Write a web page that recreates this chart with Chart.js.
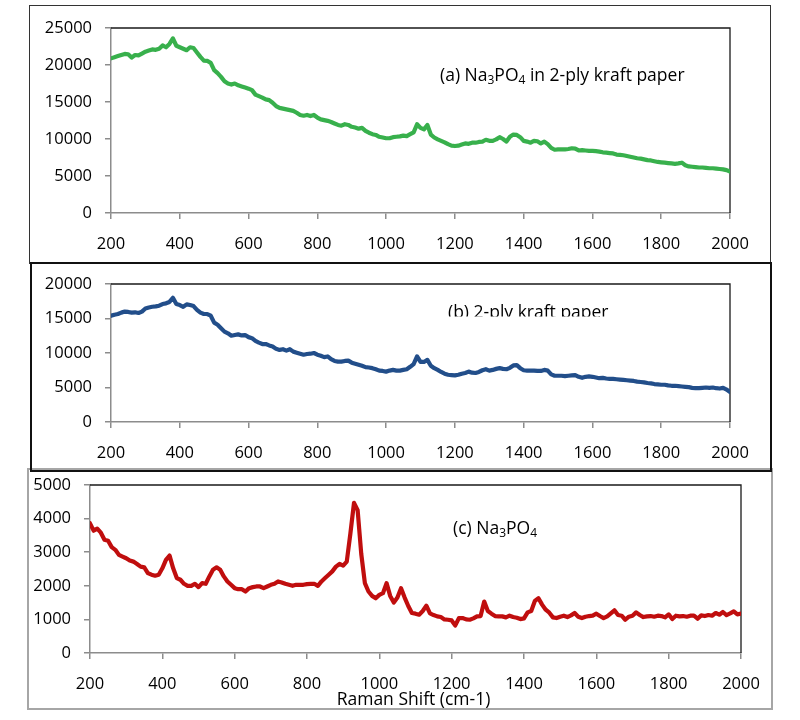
<!DOCTYPE html>
<html>
<head>
<meta charset="utf-8">
<script src="https://cdn.jsdelivr.net/npm/chart.js@4.4.1/dist/chart.umd.min.js"></script>
<style>
  html, body { margin: 0; padding: 0; background: #fff; }
  #page { position: relative; width: 800px; height: 720px; overflow: hidden; background: #fff; }
  #page canvas { position: absolute; left: 0; top: 0; }
  .box { position: absolute; box-sizing: border-box; }
</style>
</head>
<body>
<div id="page">
  <div class="box" style="left:27px;top:468px;width:746px;height:242px;border:2px solid #a6a6a6"></div>
  <div class="box" style="left:29px;top:5px;width:742px;height:259px;border:1.5px solid #333"></div>
  <div class="box" style="left:30px;top:262px;width:742px;height:210px;border:2px solid #111"></div>
  <canvas id="chartA" width="800" height="720"></canvas>
  <canvas id="chartB" width="800" height="720"></canvas>
  <canvas id="chartC" width="800" height="720"></canvas>
</div>
<script>
// Raman shift (cm-1), one reading every 10 cm-1
const shifts = [
  200, 210, 220, 230, 240, 250, 260, 270, 280, 290,
  300, 310, 320, 330, 340, 350, 360, 370, 380, 390,
  400, 410, 420, 430, 440, 450, 460, 470, 480, 490,
  500, 510, 520, 530, 540, 550, 560, 570, 580, 590,
  600, 610, 620, 630, 640, 650, 660, 670, 680, 690,
  700, 710, 720, 730, 740, 750, 760, 770, 780, 790,
  800, 810, 820, 830, 840, 850, 860, 870, 880, 890,
  900, 910, 920, 930, 940, 950, 960, 970, 980, 990,
  1000, 1010, 1020, 1030, 1040, 1050, 1060, 1070, 1080, 1090,
  1100, 1110, 1120, 1130, 1140, 1150, 1160, 1170, 1180, 1190,
  1200, 1210, 1220, 1230, 1240, 1250, 1260, 1270, 1280, 1290,
  1300, 1310, 1320, 1330, 1340, 1350, 1360, 1370, 1380, 1390,
  1400, 1410, 1420, 1430, 1440, 1450, 1460, 1470, 1480, 1490,
  1500, 1510, 1520, 1530, 1540, 1550, 1560, 1570, 1580, 1590,
  1600, 1610, 1620, 1630, 1640, 1650, 1660, 1670, 1680, 1690,
  1700, 1710, 1720, 1730, 1740, 1750, 1760, 1770, 1780, 1790,
  1800, 1810, 1820, 1830, 1840, 1850, 1860, 1870, 1880, 1890,
  1900, 1910, 1920, 1930, 1940, 1950, 1960, 1970, 1980, 1990,
  2000
];

// (a) Na3PO4 in 2-ply kraft paper
const sampleA = [
  20900, 21050, 21200, 21350, 21500, 21450, 21000, 21350, 21300, 21550,
  21800, 21950, 22100, 22050, 22200, 22650, 22400, 22850, 23600, 22600,
  22400, 22200, 22000, 22400, 22300, 21700, 21100, 20600, 20550, 20300,
  19300, 18900, 18400, 17800, 17500, 17350, 17500, 17250, 17100, 16950,
  16800, 16600, 16000, 15800, 15600, 15350, 15250, 14900, 14450, 14200,
  14100, 14000, 13900, 13800, 13550, 13250, 13150, 13250, 13100, 13250,
  12900, 12650, 12550, 12450, 12300, 12100, 11900, 11800, 12000, 11900,
  11650, 11550, 11400, 11500, 11100, 10850, 10650, 10550, 10300, 10200,
  10100, 10100, 10250, 10300, 10350, 10450, 10400, 10650, 10900, 12000,
  11500, 11300, 11900, 10600, 10200, 9950, 9750, 9550, 9300, 9100,
  9050, 9100, 9250, 9400, 9350, 9500, 9500, 9600, 9650, 9900,
  9750, 9750, 9950, 10250, 10000, 9650, 10300, 10600, 10550, 10250,
  9750, 9650, 9500, 9750, 9700, 9400, 9650, 9300, 8800, 8550,
  8600, 8600, 8600, 8650, 8750, 8700, 8450, 8500, 8450, 8400,
  8400, 8350, 8300, 8200, 8150, 8100, 8050, 7900, 7850, 7800,
  7700, 7600, 7500, 7400, 7350, 7250, 7150, 7100, 7000, 6900,
  6850, 6800, 6750, 6700, 6650, 6700, 6800, 6450, 6300, 6250,
  6200, 6150, 6150, 6100, 6050, 6050, 6000, 5950, 5900, 5800,
  5600
];

// (b) 2-ply kraft paper
const sampleB = [
  15400, 15550, 15650, 15850, 16000, 15950, 15850, 15900, 15800, 16000,
  16450, 16600, 16700, 16750, 16850, 17100, 17200, 17400, 18000, 17100,
  16950, 16700, 17050, 16950, 16800, 16250, 15850, 15650, 15650, 15400,
  14400, 14100, 13600, 13100, 12850, 12500, 12600, 12700, 12550, 12600,
  12300, 12150, 11750, 11500, 11300, 11300, 11100, 10950, 10600, 10450,
  10550, 10350, 10550, 10200, 10050, 9900, 9750, 9850, 9900, 10000,
  9750, 9600, 9400, 9500, 9100, 8850, 8750, 8750, 8850, 8900,
  8600, 8450, 8300, 8150, 7950, 7900, 7800, 7650, 7450, 7400,
  7300, 7450, 7550, 7450, 7450, 7550, 7650, 8000, 8400, 9500,
  8700, 8700, 9000, 8150, 7800, 7550, 7250, 7000, 6850, 6800,
  6750, 6850, 7000, 7100, 7300, 7150, 7100, 7250, 7500, 7650,
  7450, 7550, 7700, 7800, 7700, 7650, 7850, 8200, 8250, 7800,
  7500, 7450, 7450, 7450, 7400, 7400, 7550, 7450, 6900, 6700,
  6700, 6700, 6650, 6700, 6750, 6800, 6550, 6400, 6550, 6600,
  6550, 6450, 6350, 6400, 6300, 6250, 6250, 6200, 6150, 6100,
  6050, 6000, 5950, 5850, 5800, 5750, 5650, 5600, 5500, 5450,
  5400, 5400, 5300, 5250, 5250, 5200, 5150, 5100, 5050, 4950,
  4900, 4900, 4950, 5000, 4950, 5000, 4900, 4850, 4950, 4700,
  4350
];

// (c) Na3PO4
const sampleC = [
  3860, 3640, 3700, 3580, 3370, 3340, 3150, 3070, 2920, 2870,
  2820, 2750, 2720, 2650, 2570, 2550, 2380, 2330, 2300, 2330,
  2520, 2770, 2900, 2520, 2230, 2180, 2060, 2000, 2000, 2060,
  1960, 2080, 2060, 2280, 2480, 2550, 2480, 2280, 2130, 2030,
  1930, 1900, 1900, 1830, 1930, 1960, 1980, 1980, 1930, 1980,
  2030, 2060, 2130, 2100, 2060, 2030, 2000, 2030, 2030, 2030,
  2050, 2060, 2060, 2000, 2130, 2230, 2330, 2430, 2570, 2650,
  2600, 2720, 3560, 4470, 4250, 2950, 2080, 1830, 1700, 1630,
  1730, 1780, 2080, 1700, 1500, 1650, 1930, 1650, 1400, 1190,
  1170, 1140, 1250, 1410, 1180, 1130, 1090, 1070, 1000, 990,
  970, 820, 1040, 1040, 1000, 990, 1030, 1090, 1100, 1530,
  1250, 1170, 1100, 1090, 1090, 1060, 1110, 1070, 1050, 1010,
  1030, 1210, 1250, 1550, 1630, 1440, 1290, 1200, 1060, 1040,
  1080, 1110, 1070, 1120, 1190, 1080, 1040, 1080, 1100, 1110,
  1170, 1100, 1040, 1090, 1180, 1270, 1130, 1110, 990, 1080,
  1110, 1210, 1130, 1070, 1090, 1100, 1080, 1110, 1100, 1060,
  1150, 1010, 1110, 1090, 1100, 1080, 1110, 1110, 1020, 1120,
  1100, 1130, 1110, 1190, 1140, 1220, 1130, 1180, 1240, 1150,
  1170
];

const FONT = "'Open Sans', sans-serif";
const AXIS_GREY = '#8c8c8c';

// top and right edge of the plot area
const frame = {
  id: 'frame',
  beforeDatasetsDraw(chart) {
    const { ctx, chartArea: a } = chart;
    ctx.save();
    ctx.strokeStyle = '#1a1a1a';
    ctx.lineWidth = 1.3;
    ctx.beginPath();
    ctx.moveTo(a.left, a.top);
    ctx.lineTo(a.right, a.top);
    ctx.lineTo(a.right, a.bottom);
    ctx.stroke();
    ctx.restore();
  }
};

// text with subscripts: parts = [[text, isSub], ...]
function drawRich(ctx, parts, x, y) {
  ctx.textBaseline = 'alphabetic';
  ctx.textAlign = 'left';
  ctx.fillStyle = '#000';
  parts.forEach(([t, sub]) => {
    ctx.font = (sub ? '12px ' : '17.5px ') + FONT;
    ctx.fillText(t, x, sub ? y + 3 : y);
    x += ctx.measureText(t).width;
  });
}

function labelPlugin(parts, x, y, clipBottom, axisTitle) {
  return {
    id: 'panelLabel',
    afterDraw(chart) {
      const ctx = chart.ctx;
      ctx.save();
      if (clipBottom) {
        ctx.beginPath();
        ctx.rect(0, 0, 800, clipBottom);
        ctx.clip();
      }
      drawRich(ctx, parts, x, y);
      ctx.restore();
      if (axisTitle) {
        const a = chart.chartArea;
        ctx.save();
        ctx.font = '17.5px ' + FONT;
        ctx.fillStyle = '#000';
        ctx.textAlign = 'center';
        ctx.fillText(axisTitle, (a.left + a.right) / 2 - 2, 705);
        ctx.restore();
      }
    }
  };
}

function makeChart(id, values, color, yMax, yStep, area, plugin) {
  const yw = 80, xh = 40;
  const points = shifts.map((s, i) => ({ x: s, y: values[i] }));
  return new Chart(document.getElementById(id), {
    type: 'line',
    data: {
      datasets: [{
        data: points,
        borderColor: color,
        borderWidth: 4.2,
        borderJoinStyle: 'round',
        borderCapStyle: 'round',
        pointRadius: 0,
        tension: 0,
        fill: false
      }]
    },
    options: {
      responsive: false,
      animation: false,
      events: [],
      layout: {
        padding: {
          left: area.left - yw,
          top: area.top,
          right: 800 - area.right,
          bottom: 720 - area.bottom - xh
        }
      },
      plugins: { legend: { display: false }, tooltip: { enabled: false } },
      scales: {
        x: {
          type: 'linear',
          min: 200,
          max: 2000,
          afterFit: s => { s.height = xh; },
          border: { display: true, color: AXIS_GREY, width: 1.5 },
          grid: { drawOnChartArea: false, drawTicks: true, tickLength: 6, color: AXIS_GREY, lineWidth: 1.5 },
          ticks: {
            stepSize: 200,
            autoSkip: false,
            maxRotation: 0,
            padding: 15,
            color: '#000',
            font: { family: FONT, size: 16.5 },
            callback: v => String(v)
          }
        },
        y: {
          min: 0,
          max: yMax,
          afterFit: s => { s.width = yw; },
          border: { display: true, color: AXIS_GREY, width: 1.5 },
          grid: { drawOnChartArea: false, drawTicks: true, tickLength: 6, color: AXIS_GREY, lineWidth: 1.5 },
          ticks: {
            stepSize: yStep,
            padding: 13,
            color: '#000',
            font: { family: FONT, size: 16.5 },
            callback: v => String(v)
          }
        }
      }
    },
    plugins: [frame, plugin]
  });
}

makeChart('chartA', sampleA, '#38b04c', 25000, 5000,
  { left: 111, top: 28, right: 730, bottom: 213 },
  labelPlugin([['(a) Na', false], ['3', true], ['PO', false], ['4', true], [' in 2-ply kraft paper', false]], 440, 81));

makeChart('chartB', sampleB, '#224e8a', 20000, 5000,
  { left: 111, top: 284, right: 730, bottom: 422 },
  labelPlugin([['(b) 2-ply kraft paper', false]], 448, 318, 316.5));

makeChart('chartC', sampleC, '#c00e0e', 5000, 1000,
  { left: 90, top: 485, right: 741, bottom: 653 },
  labelPlugin([['(c) Na', false], ['3', true], ['PO', false], ['4', true]], 453, 534, null, 'Raman Shift (cm-1)'));
</script>
</body>
</html>
